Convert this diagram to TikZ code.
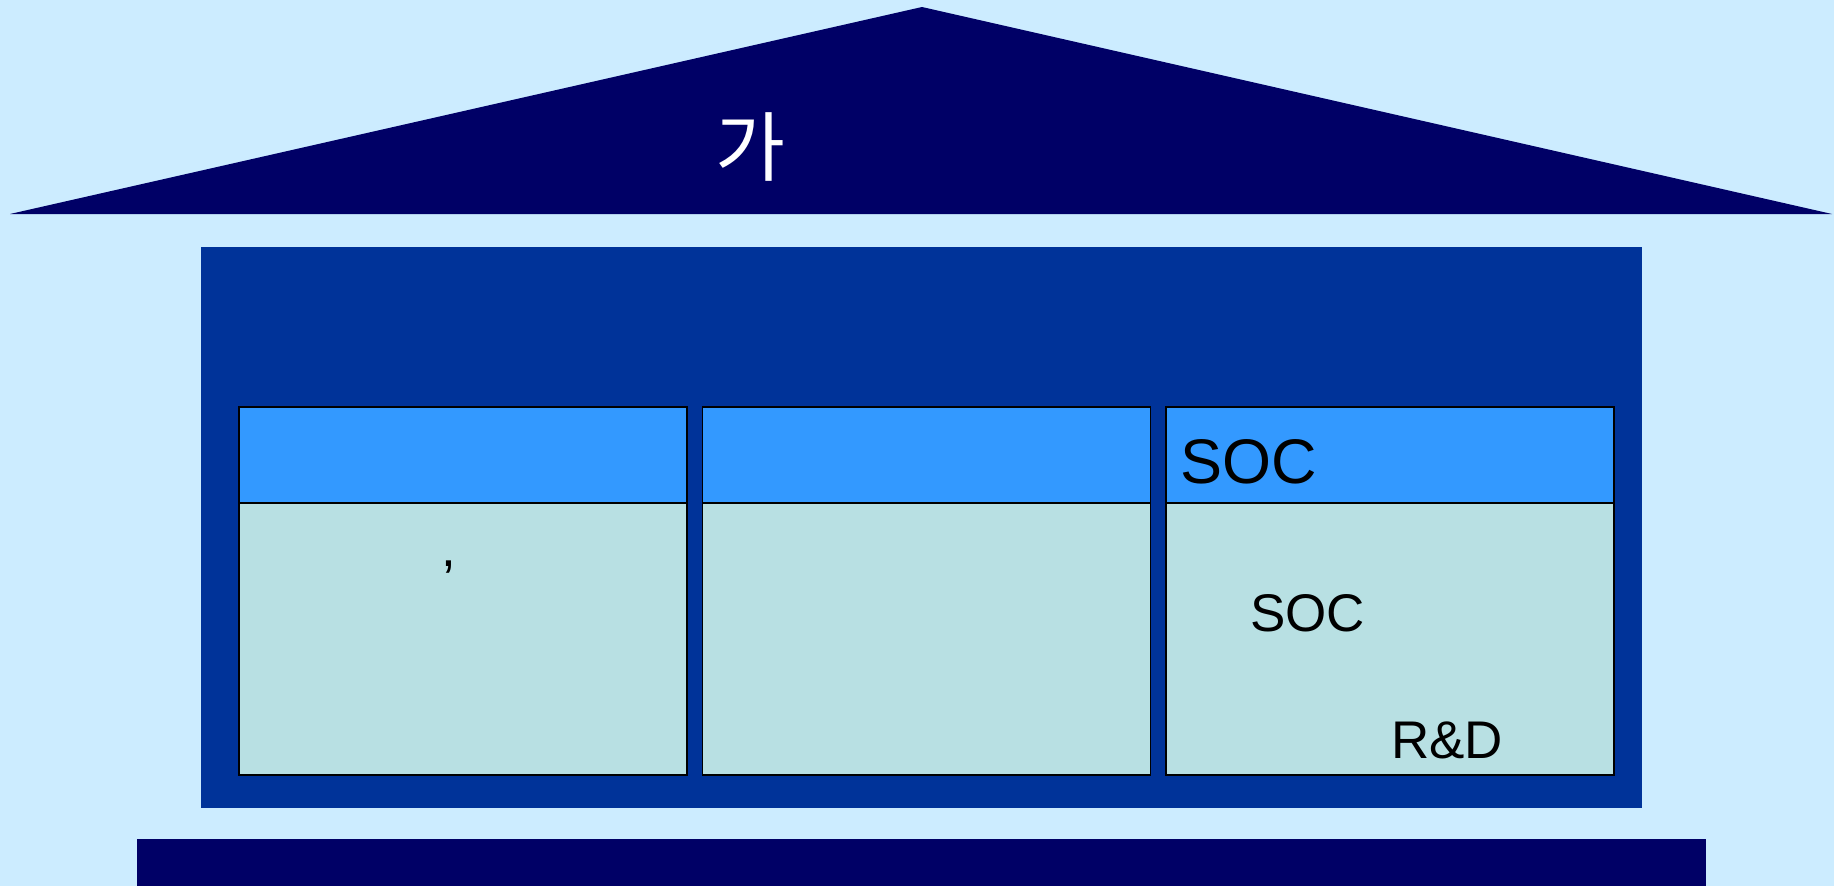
\documentclass[tikz,border=0pt]{standalone}
\usepackage{fontspec}
\setmainfont{Liberation Sans}
\newfontfamily\krfont{Noto Sans CJK KR}
\usepackage{tikz}
\usetikzlibrary{positioning}
\definecolor{SkyBg}{HTML}{CCECFF}
\definecolor{RoofNavy}{HTML}{000066}
\definecolor{WallBlue}{HTML}{003399}
\definecolor{HeadBlue}{HTML}{3399FF}
\definecolor{PaneTeal}{HTML}{B8E0E3}

\begin{document}
\begin{tikzpicture}[
      x=1pt, y=-1pt,
      pillar/.style={
        draw=black, fill=PaneTeal, line width=1.5pt,
        minimum width=448pt, minimum height=368pt, inner sep=0pt
      },
      head/.style={
        draw=black, fill=HeadBlue, line width=1.5pt,
        minimum width=448pt, minimum height=96pt, inner sep=0pt,
        anchor=north west
      },
      lbl/.style={anchor=base west, inner sep=0pt, text=black}
    ]
      \fill[SkyBg] (0,0) rectangle (1834,886);
      \useasboundingbox (0,0) rectangle (1834,886);
      % roof, wall and base
      \fill[RoofNavy] (10,214) -- (922,7) -- (1832,214) -- cycle;
      \fill[WallBlue] (201,247) rectangle (1642,808);
      \fill[RoofNavy] (137,839) rectangle (1706,886);
      \node[text=white, inner sep=0pt, font=\krfont\fontsize{76}{92}\selectfont] (roof) at (750,147) {가};
      % three pillars
      \node[pillar, anchor=north west] (colA) at (238,406) {};
      \node[pillar, right=14pt of colA] (colB) {};
      \node[pillar, right=14pt of colB] (colC) {};
      \node[head] (headA) at (colA.north west) {};
      \node[head] (headB) at (colB.north west) {};
      \node[head] (headC) at (colC.north west) {};
      \node[lbl, font=\fontsize{63}{76}\selectfont] (socHead) at (1180,483) {SOC};
      \node[lbl, font=\fontsize{53}{64}\selectfont] (socBody) at (1250,631) {SOC};
      \node[lbl, font=\fontsize{53}{64}\selectfont] (rnd) at (1391,758) {R\&D};
      \node[lbl, font=\fontsize{53}{64}\selectfont] (comma) at (441,566) {,};
    \end{tikzpicture}
\end{document}
